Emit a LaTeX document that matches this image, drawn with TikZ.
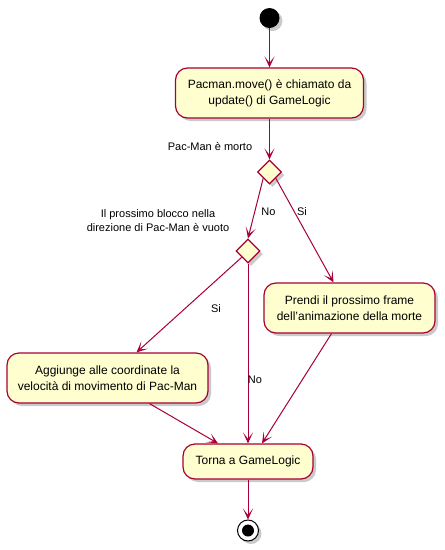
\documentclass[tikz,border=0pt]{standalone}
\usepackage{fontspec}
\setmainfont{Liberation Sans}
\usetikzlibrary{shapes.geometric,arrows.meta,shadows,calc}
\definecolor{umlborder}{HTML}{A80036}
\definecolor{umlfill}{HTML}{FEFECE}
\tikzset{
  shadowed/.style={drop shadow={shadow xshift=3pt,shadow yshift=-3pt,opacity=0.35,fill=black!60}},
  actbox/.style={rectangle,rounded corners=12pt,draw=umlborder,fill=umlfill,line width=1.2pt,
    align=center,inner sep=0pt,font=\fontsize{12}{16}\selectfont,shadowed},
  decision/.style={diamond,draw=umlborder,fill=umlfill,line width=1.2pt,minimum width=24pt,
    minimum height=24pt,inner sep=0pt,shadowed},
  flow/.style={draw=umlborder,line width=1pt,-{Stealth[length=11pt,width=10pt,inset=6.5pt]}},
  lbl/.style={font=\fontsize{11}{14}\selectfont,align=center,inner sep=0pt},
  startdot/.style={circle,fill=black,minimum size=20pt,inner sep=0pt,shadowed},
}
\begin{document}
\begin{tikzpicture}[x=1pt,y=-1pt]
\useasboundingbox (0,0) rectangle (445,550);
\node[startdot] (start) at (269.5,18) {};
\node[actbox,minimum width=188pt,minimum height=50pt] (move) at (269.5,93) {Pacman.move() è chiamato da\\update() di GameLogic};
\node[decision] (d1) at (269.5,172) {};
\node[lbl] (l1) at (210,146) {Pac-Man è morto};
\node[decision] (d2) at (248,251) {};
\node[lbl] (l2) at (158,221) {Il prossimo blocco nella\\direzione di Pac-Man è vuoto};
\node[actbox,minimum width=171pt,minimum height=50pt] (death) at (349.5,308) {Prendi il prossimo frame\\dell'animazione della morte};
\node[actbox,minimum width=201pt,minimum height=50pt] (add) at (107.5,378) {Aggiunge alle coordinate la\\velocità di movimento di Pac-Man};
\node[actbox,minimum width=130pt,minimum height=35pt] (back) at (248,461.5) {Torna a GameLogic};
\node[circle,draw=black,line width=1pt,fill=white,minimum size=21pt,inner sep=0pt,shadowed] (endo) at (248,530.5) {};
\node[circle,fill=black,minimum size=12pt,inner sep=0pt] (endi) at (endo.center) {};

\coordinate (t1) at ($(death.north)+(-16,0)$);
\coordinate (t2) at ($(add.north)+(29,0)$);
\coordinate (t3) at ($(back.north)+(-30,0)$);
\coordinate (t4) at ($(back.north)+(14,0)$);
\coordinate (s3) at ($(add.south)+(42,0)$);
\coordinate (s4) at ($(death.south)+(-18,0)$);

\draw[flow] (start) -- (move);
\draw[flow] (move) -- (d1);
\draw[flow] (d1.south west) -- (d2.north);
\node[lbl] (lno1) at (268.5,212) {No};
\draw[flow] (d1.south east) -- (t1);
\node[lbl] (lsi1) at (302,212) {Si};
\draw[flow] (d2.south west) -- (t2);
\node[lbl] (lsi2) at (216,309) {Si};
\draw[flow] (d2.south) -- (back.north);
\node[lbl] (lno2) at (255,380) {No};
\draw[flow] (s3) -- (t3);
\draw[flow] (s4) -- (t4);
\draw[flow] (back) -- (endo);
\end{tikzpicture}
\end{document}
